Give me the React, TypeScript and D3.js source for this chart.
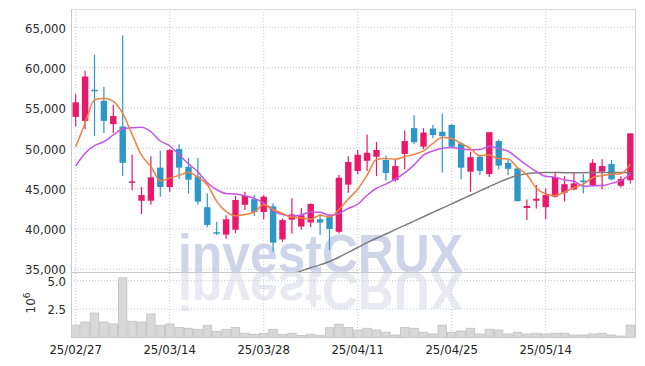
import React from "react";
import * as d3 from "d3";

const tickLabels = ["25/02/27", "25/03/14", "25/03/28", "25/04/11", "25/04/25", "25/05/14"];
const tickIndex = [0, 10, 20, 30, 40, 50];
const priceTicks = [35000, 40000, 45000, 50000, 55000, 60000, 65000];
const volTicks = [2.5, 5.0];

const opens = [53900, 53400, 57250, 55900, 53000, 52700, 45800, 43500, 43500, 47600,
  45200, 49900, 47700, 46500, 42700, 39600, 39300, 39900, 43000, 43700,
  42100, 42800, 38700, 41150, 40300, 40800, 41200, 41500, 39650, 45500,
  47200, 48450, 48950, 48550, 46050, 49300, 52500, 50200, 52450, 52050,
  52900, 50600, 47100, 48950, 46800, 50900, 48200, 47500, 42600, 43500,
  42700, 44000, 44500, 44900, 46000, 45450, 47100, 48050, 45350, 46050];
const highs = [56700, 59600, 61600, 57600, 55400, 64000, 49200, 45200, 49000, 49700,
  49900, 50500, 48800, 48800, 44400, 40900, 41700, 44100, 44600, 44200,
  44200, 43200, 41300, 43800, 42600, 43200, 41850, 41800, 46700, 49000,
  49800, 51700, 50800, 49100, 48550, 52200, 54100, 52500, 52900, 54300,
  53000, 50800, 49600, 49150, 52000, 51100, 48600, 47700, 43650, 45450,
  45050, 47100, 46550, 46950, 46800, 48650, 48650, 48550, 46550, 51850];
const lows = [52700, 52400, 51500, 51900, 51900, 46600, 44800, 41850, 43000, 44000,
  44600, 46200, 44400, 43000, 40200, 39250, 38800, 39500, 42350, 41600,
  41200, 37200, 38400, 39450, 39900, 40200, 39250, 37400, 39450, 44500,
  46800, 47200, 46550, 46000, 45850, 47400, 50500, 49900, 51250, 47000,
  50100, 46150, 44600, 46700, 46450, 47400, 46700, 43400, 41100, 42550,
  41200, 43900, 43400, 44800, 44400, 45300, 44900, 46050, 45150, 45650];
const closes = [55700, 58900, 57150, 53400, 54000, 48200, 45900, 44200, 46400, 45200,
  49800, 47600, 46100, 43400, 40500, 39500, 41200, 43600, 44100, 42100,
  44000, 38300, 41100, 41800, 41700, 43100, 40800, 40000, 46350, 48300,
  49200, 49450, 49800, 46950, 47800, 50900, 50750, 51950, 51650, 51500,
  50200, 47600, 48900, 47200, 52000, 47850, 47450, 43450, 42850, 43750,
  44200, 46450, 45550, 45650, 45900, 48200, 47800, 46150, 46200, 51850];
const volumes = [1.08, 1.37, 2.16, 1.37, 1.2, 5.24, 1.43, 1.37, 2.07, 1.08,
  1.2, 0.9, 0.82, 0.73, 1.08, 0.55, 0.73, 0.9, 0.38, 0.29,
  0.38, 0.73, 0.29, 0.38, 0.2, 0.29, 0.2, 0.86, 1.18, 0.9,
  0.67, 0.82, 0.67, 0.47, 0.23, 0.9, 0.82, 0.47, 0.32, 1.1,
  0.47, 0.58, 0.82, 0.32, 0.73, 0.67, 0.32, 0.47, 0.32, 0.38,
  0.32, 0.38, 0.38, 0.23, 0.23, 0.32, 0.38, 0.23, 0.14, 1.1];
const ma5 = [50200, 53100, 56000, 56200, 55830, 54330, 51730, 49140, 47740, 45980,
  46300, 46640, 47020, 46420, 45480, 43420, 42140, 41640, 41780, 42100,
  43000, 42420, 41920, 41460, 41380, 41200, 41700, 41480, 42390, 43710,
  44930, 46660, 48620, 48740, 48640, 48980, 49240, 49670, 50610, 51350,
  51210, 50580, 49970, 49080, 49180, 48710, 48680, 47590, 46720, 45070,
  44340, 44140, 44560, 45120, 45550, 46350, 46620, 46740, 46850, 48040];
const ma10 = [47800, 49380, 50320, 50820, 51650, 52390, 52550, 52600, 52050, 50905,
  50315, 49185, 48080, 47080, 45730, 44860, 44390, 44330, 44100, 43790,
  43210, 42280, 41780, 41620, 41740, 42100, 42060, 41700, 41925, 42545,
  43065, 44180, 45050, 45565, 46175, 46955, 47950, 49145, 49675, 49995,
  50095, 49910, 49820, 49845, 50265, 49960, 49630, 48780, 47900, 47125,
  46525, 46410, 46075, 45920, 45310, 45345, 45380, 45650, 45985, 46795];
const ma60Start = 22;
const ma60 = [33900, 34350, 34800, 35200, 35550, 35970, 36490, 37100,
  37700, 38300, 38850, 39380, 39920, 40450, 40980, 41520, 42050, 42580,
  43110, 43650, 44180, 44720, 45250, 45780, 46260, 46630, 46860, 46950,
  47000, 47000, 46980, 46980, 46980, 47000, 47000, 47000, 47000, 47000];

const UP = "#e8196a";
const DOWN = "#2f96c8";
const GRID = "#c5c8de";
const LABEL_FONT = "'DejaVu Sans Condensed', 'DejaVu Sans', sans-serif";

export default function App() {
  const left = 71, right = 635, top = 9, sep = 272, volBottom = 337.6;
  const n = closes.length;
  const x = d3.scaleBand<number>().domain(d3.range(n)).range([left, right]).padding(0);
  const bw = x.bandwidth();
  const cx = (i: number) => (x(i) as number) + bw / 2;
  const y = d3.scaleLinear().domain([34665, 67270]).range([sep, top]);
  const yv = d3.scaleLinear().domain([0, 5.76]).range([volBottom, sep]);
  const bodyW = bw * 0.68;

  const line = d3.line<[number, number]>().x((d) => d[0]).y((d) => d[1]).curve(d3.curveMonotoneX);
  const path5 = line(ma5.map((v, i) => [cx(i), y(v)]));
  const path10 = line(ma10.map((v, i) => [cx(i), y(v)]));
  const path60 = line(ma60.map((v, i) => [cx(i + ma60Start), y(v)]));
  const fmt = d3.format(",");
  const fmtV = d3.format(".1f");

  return (
    <svg width={645} height={366} style={{ position: "absolute", left: 0, top: 0, display: "block", background: "#fff" }}>
      <defs>
        <clipPath id="pclip">
          <rect x={left} y={top} width={right - left} height={sep - top} />
        </clipPath>
      </defs>
      {/* watermark */}
      <g>
        <text x={178} y={sep} fontSize={54} fontWeight="bold" fontFamily="'Liberation Sans', Arial, sans-serif"
          textLength={285} lengthAdjust="spacingAndGlyphs" fill="#cfd5e9">investCRUX</text>
        <g transform={`translate(0, ${2 * sep}) scale(1,-1)`}>
          <text x={178} y={sep} fontSize={54} fontWeight="bold" fontFamily="'Liberation Sans', Arial, sans-serif"
            textLength={285} lengthAdjust="spacingAndGlyphs" fill="#e9e9f1">investCRUX</text>
        </g>
      </g>
      {/* grid */}
      {priceTicks.map((t) => (
        <line key={"pg" + t} x1={left} x2={right} y1={y(t)} y2={y(t)} stroke={GRID} strokeDasharray="1,2" />
      ))}
      {volTicks.map((t) => (
        <line key={"vg" + t} x1={left} x2={right} y1={yv(t)} y2={yv(t)} stroke={GRID} strokeDasharray="1,2" />
      ))}
      {tickIndex.map((i) => (
        <line key={"xg" + i} x1={cx(i)} x2={cx(i)} y1={top} y2={volBottom} stroke={GRID} strokeDasharray="1,2" />
      ))}
      {/* volume */}
      {volumes.map((v, i) => (
        <rect key={"v" + i} x={(x(i) as number) + 0.5} y={yv(v)} width={bw - 1} height={volBottom - yv(v)}
          fill="#d8d8d8" stroke="#c0c0c0" strokeWidth={0.8} />
      ))}
      {/* candles */}
      {closes.map((c, i) => {
        const o = opens[i];
        const col = c >= o ? UP : DOWN;
        const yt = y(Math.max(o, c));
        const yb = y(Math.min(o, c));
        return (
          <g key={"c" + i}>
            <line x1={cx(i)} x2={cx(i)} y1={y(highs[i])} y2={y(lows[i])} stroke={col} strokeWidth={1.2} />
            <rect x={cx(i) - bodyW / 2} y={yt} width={bodyW} height={Math.max(1.5, yb - yt)} fill={col} />
          </g>
        );
      })}
      {/* moving averages */}
      <g clipPath="url(#pclip)" fill="none" strokeWidth={1.5}>
        <path d={path60 || ""} stroke="#7d7d7d" />
        <path d={path10 || ""} stroke="#c455e8" />
        <path d={path5 || ""} stroke="#ee8140" />
      </g>
      {/* frame */}
      <line x1={left} x2={right} y1={top + 0.5} y2={top + 0.5} stroke="#dcdcdc" />
      <line x1={left + 0.5} x2={left + 0.5} y1={top} y2={volBottom} stroke="#c8c8c8" />
      <line x1={right + 0.5} x2={right + 0.5} y1={top} y2={volBottom} stroke="#d0d0d0" />
      <line x1={left} x2={right} y1={sep + 0.5} y2={sep + 0.5} stroke="#c8c8c8" />
      {/* y labels */}
      {priceTicks.map((t) => (
        <text key={"pl" + t} x={66} y={y(t)} dy="0.4em" textAnchor="end" fontSize={13}
          fontFamily={LABEL_FONT} style={{ fontStretch: "condensed" }} fill="#2a2a2a">{fmt(t)}</text>
      ))}
      {volTicks.map((t) => (
        <text key={"vl" + t} x={66} y={yv(t)} dy="0.4em" textAnchor="end" fontSize={13}
          fontFamily={LABEL_FONT} style={{ fontStretch: "condensed" }} fill="#2a2a2a">{fmtV(t)}</text>
      ))}
      <text transform="translate(35, 303) rotate(-90)" textAnchor="middle" fontSize={12}
        fontFamily="'DejaVu Sans', sans-serif" fill="#333">
        10<tspan dy="-5" fontSize={9}>6</tspan>
      </text>
      {/* x labels */}
      {tickIndex.map((i, k) => (
        <text key={"xl" + i} x={cx(i)} y={354} textAnchor="middle" fontSize={13}
          fontFamily={LABEL_FONT} style={{ fontStretch: "condensed" }} fill="#222">{tickLabels[k]}</text>
      ))}
    </svg>
  );
}
